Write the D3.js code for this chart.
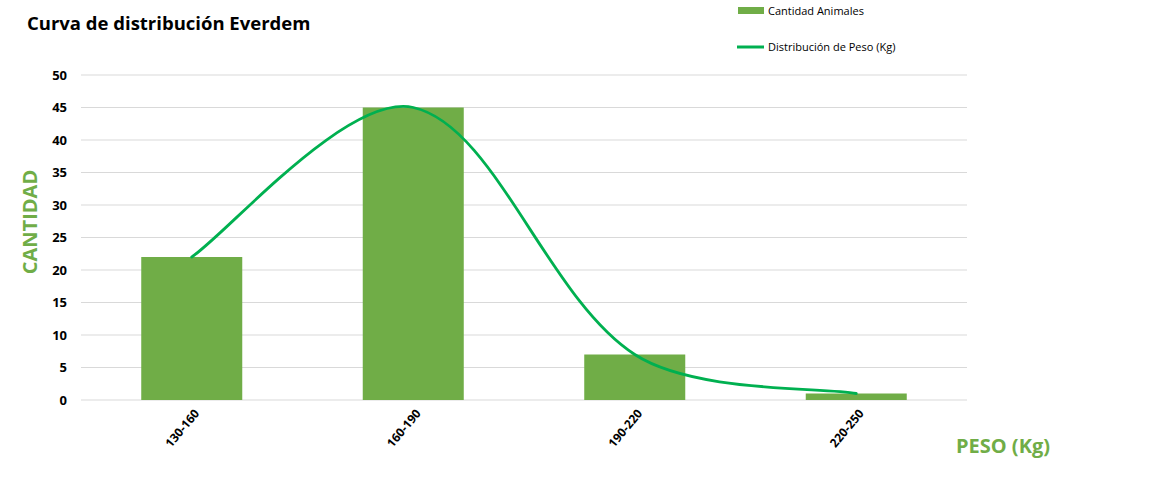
<!DOCTYPE html>
<html>
<head>
<meta charset="utf-8">
<script src="https://cdn.jsdelivr.net/npm/d3@7"></script>
<style>
body { margin:0; background:#fff; }
text { font-family: "Open Sans", Lato, sans-serif; }
</style>
</head>
<body>
<svg width="1155" height="492"></svg>
<script>
// data
var categories = ["130-160", "160-190", "190-220", "220-250"]
var cantidad = [22, 45, 7, 1]
var distribucion = [22, 45, 7, 1]
var yTicks = [0, 5, 10, 15, 20, 25, 30, 35, 40, 45, 50]

var barColor = "#70AD47"
var lineColor = "#00B050"

var svg = d3.select("svg")

var plot = {left:81, right:967, top:75, bottom:400}

var xScale = d3.scaleBand()
    .domain(categories)
    .range([plot.left, plot.right])
    .paddingInner(0.544)
    .paddingOuter(0.272)

var yScale = d3.scaleLinear()
    .domain([0, 50])
    .range([plot.bottom, plot.top])

//gridlines
svg.append("g")
    .selectAll("line")
    .data(yTicks)
    .enter()
    .append("line")
    .attr("x1", plot.left)
    .attr("x2", plot.right)
    .attr("y1", function(d){return yScale(d)})
    .attr("y2", function(d){return yScale(d)})
    .style("stroke", "#d9d9d9")
    .style("stroke-width", 1)

//y tick labels
svg.append("g")
    .selectAll("text")
    .data(yTicks)
    .enter()
    .append("text")
    .attr("x", 67)
    .attr("y", function(d){return yScale(d)})
    .attr("dy", "0.35em")
    .attr("text-anchor", "end")
    .style("font-size", "13px")
    .style("font-weight", "bold")
    .style("fill", "#000")
    .text(function(d){return d})

//bars
svg.append("g")
    .selectAll("rect")
    .data(cantidad)
    .enter()
    .append("rect")
    .attr("x", function(d,i){return xScale(categories[i])})
    .attr("y", function(d){return yScale(d)})
    .attr("width", xScale.bandwidth())
    .attr("height", function(d){return yScale(0)-yScale(d)})
    .attr("fill", barColor)

//smooth line, excel style: tangent from neighbours, handle length
//split by the length of the segments on each side
var dist = function(a,b){return Math.sqrt((a[0]-b[0])*(a[0]-b[0])+(a[1]-b[1])*(a[1]-b[1]))}
var excelSmooth = function(values)
{
    var pts = values.map(function(d,i)
    {
        return [xScale(categories[i])+xScale.bandwidth()/2, yScale(d)]
    })
    var n = pts.length
    var fwd = [], back = []
    pts.forEach(function(p,i)
    {
        var a = pts[Math.max(i-1,0)], c = pts[Math.min(i+1,n-1)]
        var dA = dist(a,p), dC = dist(p,c)
        var tx = c[0]-a[0], ty = c[1]-a[1]
        var s = dA+dC
        var kf = (i==0 || i==n-1) ? 1/6 : 2*dC/s/6
        var kb = (i==0 || i==n-1) ? 1/6 : 2*dA/s/6
        fwd.push([p[0]+tx*kf, p[1]+ty*kf])
        back.push([p[0]-tx*kb, p[1]-ty*kb])
    })
    var path = d3.path()
    path.moveTo(pts[0][0], pts[0][1])
    for (var i = 0; i < n-1; i++)
    {
        path.bezierCurveTo(fwd[i][0], fwd[i][1], back[i+1][0], back[i+1][1], pts[i+1][0], pts[i+1][1])
    }
    return path.toString()
}

svg.append("path")
    .datum(distribucion)
    .attr("d", excelSmooth)
    .attr("fill", "none")
    .attr("stroke", lineColor)
    .attr("stroke-width", 2.8)
    .attr("stroke-linecap", "round")

//x tick labels
svg.append("g")
    .selectAll("text")
    .data(categories)
    .enter()
    .append("text")
    .attr("transform", function(d)
    {
        var x = xScale(d)+xScale.bandwidth()/2 + 5
        return "translate("+x+",411) rotate(-50)"
    })
    .attr("text-anchor", "end")
    .attr("dy", "0.35em")
    .style("font-size", "12px")
    .style("font-weight", "bold")
    .style("fill", "#000")
    .text(function(d){return d})

//title
svg.append("text")
    .attr("x", 27)
    .attr("y", 30)
    .style("font-size", "18.5px")
    .style("font-weight", "bold")
    .style("fill", "#000")
    .text("Curva de distribución Everdem")

//axis titles
svg.append("text")
    .attr("transform", "translate(37,222) rotate(-90)")
    .attr("text-anchor", "middle")
    .style("font-size", "20px")
    .style("font-weight", "bold")
    .style("fill", barColor)
    .text("CANTIDAD")

svg.append("text")
    .attr("x", 1003)
    .attr("y", 453)
    .attr("text-anchor", "middle")
    .style("font-size", "20px")
    .style("font-weight", "bold")
    .style("fill", barColor)
    .text("PESO (Kg)")

//legend
var legend = svg.append("g").attr("class", "legend")
legend.append("rect")
    .attr("x", 738)
    .attr("y", 7)
    .attr("width", 26)
    .attr("height", 7)
    .attr("fill", barColor)
legend.append("text")
    .attr("x", 768)
    .attr("y", 11)
    .attr("dy", "0.35em")
    .style("font-size", "11px")
    .style("fill", "#000")
    .text("Cantidad Animales")
legend.append("line")
    .attr("x1", 737)
    .attr("x2", 764)
    .attr("y1", 47)
    .attr("y2", 47)
    .attr("stroke", lineColor)
    .attr("stroke-width", 3)
legend.append("text")
    .attr("x", 768)
    .attr("y", 47)
    .attr("dy", "0.35em")
    .style("font-size", "11px")
    .style("fill", "#000")
    .text("Distribución de Peso (Kg)")
</script>
</body>
</html>
